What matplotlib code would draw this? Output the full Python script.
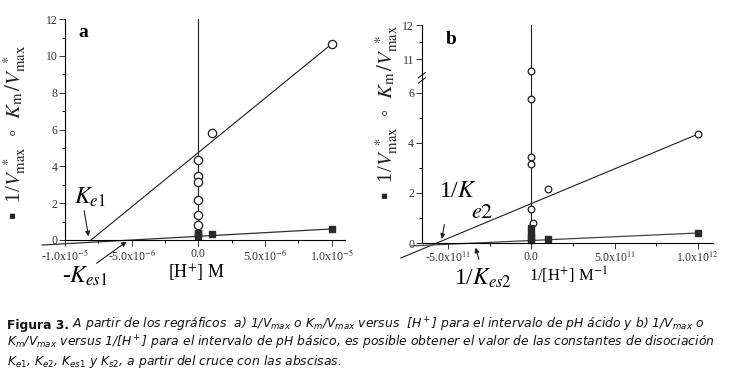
#!/usr/bin/env python3

import numpy as np
import matplotlib
matplotlib.use("Agg")
import matplotlib.pyplot as plt
from matplotlib.ticker import FixedLocator, FixedFormatter

plt.rcParams["font.family"] = ["Liberation Serif", "DejaVu Sans"]
plt.rcParams["mathtext.fontset"] = "stix"

# panel a: acid pH, x = [H+]
a_circ_x = [0, 0, 0, 0, 0, 0, 1e-6, 1e-5]
a_circ_y = [4.35, 3.45, 3.15, 2.15, 1.35, 0.8, 5.8, 10.65]
a_sq_x = [0, 0, 0, 1e-6, 1e-5]
a_sq_y = [0.4, 0.3, 0.2, 0.3, 0.6]
a_fit_circ_x = [-8.05e-6, 1e-5]
a_fit_circ_y = [0, 10.65]
a_fit_sq_x = [-1.17e-5, 1e-5]
a_fit_sq_y = [-0.27, 0.6]
a_xticks = [-1e-5, -5e-6, 0, 5e-6, 1e-5]
a_xlabels = [r"-1.0x10$^{-5}$", r"-5.0x10$^{-6}$", "0.0", r"5.0x10$^{-6}$", r"1.0x10$^{-5}$"]

# panel b: basic pH, x = 1/[H+]
b_circ_x = [0, 0, 0, 0, 0, 1e10, 1e11, 1e12]
b_circ_y = [10.65, 5.75, 3.45, 3.15, 1.35, 0.8, 2.15, 4.35]
b_sq_x = [0, 0, 0, 0, 1e11, 1e12]
b_sq_y = [0.6, 0.35, 0.25, 0.1, 0.15, 0.4]
b_fit_circ_x = [-7.84e11, 1e12]
b_fit_circ_y = [-0.6, 4.35]
b_fit_sq_x = [-7.2e11, 1e12]
b_fit_sq_y = [-0.116, 0.4]
b_xticks = [-5e11, 0, 5e11, 1e12]
b_xlabels = [r"-5.0x10$^{11}$", "0.0", r"5.0x10$^{11}$", r"1.0x10$^{12}$"]
b_yticks = [0, 2, 4, 6, 11, 12]

ylab = r"▪  1/$V_{\rm max}^{\ *}$  ◦  $K_{\rm m}\,/V_{\rm max}^{\ *}$"

# broken y axis for panel b
B1, B2, G, K = 6.6, 10.45, 0.001, 1.36


def fwd(y):
    y = np.asarray(y, dtype=float)
    return np.where(y <= B1, y,
                    np.where(y >= B2, B1 + (B2 - B1) * G + (y - B2) * K,
                             B1 + (y - B1) * G))


def inv(u):
    u = np.asarray(u, dtype=float)
    c = B1 + (B2 - B1) * G
    return np.where(u <= B1, u,
                    np.where(u >= c, B2 + (u - c) / K, B1 + (u - B1) / G))


fig = plt.figure(figsize=(7.31, 3.75), dpi=100)
axa = fig.add_axes([0.0889, 0.36, 0.383, 0.589])
axb = fig.add_axes([0.577, 0.352, 0.398, 0.581])

lc = "#1e1e1e"
for ax in (axa, axb):
    ax.spines["top"].set_visible(False)
    ax.spines["right"].set_visible(False)
    ax.spines["left"].set_linewidth(0.8)
    ax.spines["bottom"].set_linewidth(0.8)
    ax.tick_params(which="major", length=4, width=0.7, labelsize=8.5, colors="#333333", pad=1.5)
    ax.tick_params(which="minor", length=2.2, width=0.7)

# ---- panel a
axa.plot([0, 0], [0, 12], color=lc, lw=0.8, clip_on=False)
axa.plot(a_fit_circ_x, a_fit_circ_y, color=lc, lw=0.8, clip_on=False)
axa.plot(a_fit_sq_x, a_fit_sq_y, color="#3c2828", lw=0.9, clip_on=False)
axa.plot(a_circ_x, a_circ_y, "o", ms=6, mfc="white", mec=lc, mew=0.9, clip_on=False)
axa.plot(a_sq_x, a_sq_y, "s", ms=5, color="#2a2a2a", clip_on=False)
axa.set_xlim(-1.0e-5, 1.1e-5)
axa.set_ylim(0, 12)
axa.xaxis.set_major_locator(FixedLocator(a_xticks))
axa.xaxis.set_major_formatter(FixedFormatter(a_xlabels))
axa.xaxis.set_minor_locator(FixedLocator(np.arange(-1e-5, 1.1e-5, 2.5e-6)))
axa.set_yticks(range(0, 13, 2))
axa.set_yticks(range(1, 12, 2), minor=True)

axa.text(-9.0e-6, 11.25, "a", fontsize=14, fontweight="bold", va="center")
axa.text(-9.3e-6, 2.3, r"$K_{e1}$", fontsize=17, va="center")
axa.annotate("", xy=(-8.2e-6, 0.05), xytext=(-8.6e-6, 1.75),
             arrowprops=dict(arrowstyle="-|>", color=lc, lw=0.8, mutation_scale=7))
axa.text(-1.02e-5, -1.95, r"-$K_{es1}$", fontsize=17, va="center", clip_on=False)
axa.annotate("", xy=(-5.2e-6, 0.0), xytext=(-7.8e-6, -1.35),
             arrowprops=dict(arrowstyle="-|>", color=lc, lw=0.8, mutation_scale=7),
             annotation_clip=False)
axa.text(0.471, -0.15, r"[H$^{+}$] M", transform=axa.transAxes, fontsize=13,
         ha="center", va="center")

# ---- panel b
axb.set_yscale("function", functions=(fwd, inv))
axb.plot([0, 0], [0, 12], color=lc, lw=0.8, clip_on=False)
axb.plot(b_fit_circ_x, b_fit_circ_y, color=lc, lw=0.8, clip_on=False)
axb.plot(b_fit_sq_x, b_fit_sq_y, color="#444444", lw=0.9, clip_on=False)
axb.plot(b_circ_x, b_circ_y, "o", ms=4.8, mfc="white", mec=lc, mew=0.9, clip_on=False)
axb.plot(b_sq_x, b_sq_y, "s", ms=5, color="#2a2a2a", clip_on=False)
axb.set_xlim(-6.58e11, 1.09e12)
axb.set_ylim(0, 12)
axb.xaxis.set_major_locator(FixedLocator(b_xticks))
axb.xaxis.set_major_formatter(FixedFormatter(b_xlabels))
axb.xaxis.set_minor_locator(FixedLocator([-2.5e11, 2.5e11, 7.5e11]))
axb.yaxis.set_major_locator(FixedLocator(b_yticks))
axb.yaxis.set_major_formatter(FixedFormatter([str(t) for t in b_yticks]))
axb.yaxis.set_minor_locator(FixedLocator([1, 3, 5, 11.5]))
axb.yaxis.set_minor_formatter(FixedFormatter([]))

# break marks on the y spine
ybrk = fwd(B1 + (B2 - B1) / 2)
yfrac = float(ybrk) / float(fwd(12))
for dy in (-0.012, 0.012):
    axb.plot([-0.012, 0.012], [yfrac + dy - 0.012, yfrac + dy + 0.012],
             transform=axb.transAxes, color=lc, lw=0.8, clip_on=False)

axb.text(0.082, 0.936, "b", transform=axb.transAxes, fontsize=14,
         fontweight="bold", va="center")
axb.text(0.058, 0.235, r"1/$K$", transform=axb.transAxes, fontsize=17, va="center")
axb.text(0.168, 0.135, r"$e2$", transform=axb.transAxes, fontsize=16, va="center")
axb.annotate("", xy=(-5.4e11, 0.05), xytext=(-5.2e11, 0.85),
             arrowprops=dict(arrowstyle="-|>", color=lc, lw=0.8, mutation_scale=7))
axb.text(0.11, -0.16, r"1/$K_{es2}$", transform=axb.transAxes, fontsize=17,
         va="center")
axb.annotate("", xy=(-3.4e11, -0.08), xytext=(-3.1e11, -0.76),
             arrowprops=dict(arrowstyle="-|>", color=lc, lw=0.8, mutation_scale=7),
             annotation_clip=False)
axb.text(0.505, -0.15, r"1/[H$^{+}$] M$^{-1}$", transform=axb.transAxes,
         fontsize=12, ha="center", va="center")

# y labels
fig.text(0.0205, 0.648, ylab, rotation=90, fontsize=15, ha="center", va="center",
         color="#222222")
fig.text(0.529, 0.70, ylab, rotation=90, fontsize=15, ha="center", va="center",
         color="#222222")

# caption
fs = 8.9
cap = dict(fontsize=fs, style="italic", family="DejaVu Sans",
           math_fontfamily="dejavusans", color="#111111", va="baseline")
y1 = 1 - 329 / 375
t1 = fig.text(0.0096, y1, "Figura 3.", fontsize=fs, fontweight="bold",
              family="DejaVu Sans", color="#111111", va="baseline")
fig.canvas.draw()
x1 = t1.get_window_extent(fig.canvas.get_renderer()).x1 / fig.bbox.width
fig.text(x1, y1, r" A partir de los regráficos  a) 1/$V_{max}$ o $K_m$/$V_{max}$ versus  "
         r"[H$^+$] para el intervalo de pH ácido y b) 1/$V_{max}$ o", **cap)
fig.text(0.0096, 1 - 347 / 375,
         r"$K_m$/$V_{max}$ versus 1/[H$^+$] para el intervalo de pH básico, es posible "
         r"obtener el valor de las constantes de disociación", **cap)
fig.text(0.0096, 1 - 365 / 375,
         r"$K_{e1}$, $K_{e2}$, $K_{es1}$ y $K_{s2}$, a partir del cruce con las abscisas.",
         **cap)

fig.savefig("out.png", dpi=100)
